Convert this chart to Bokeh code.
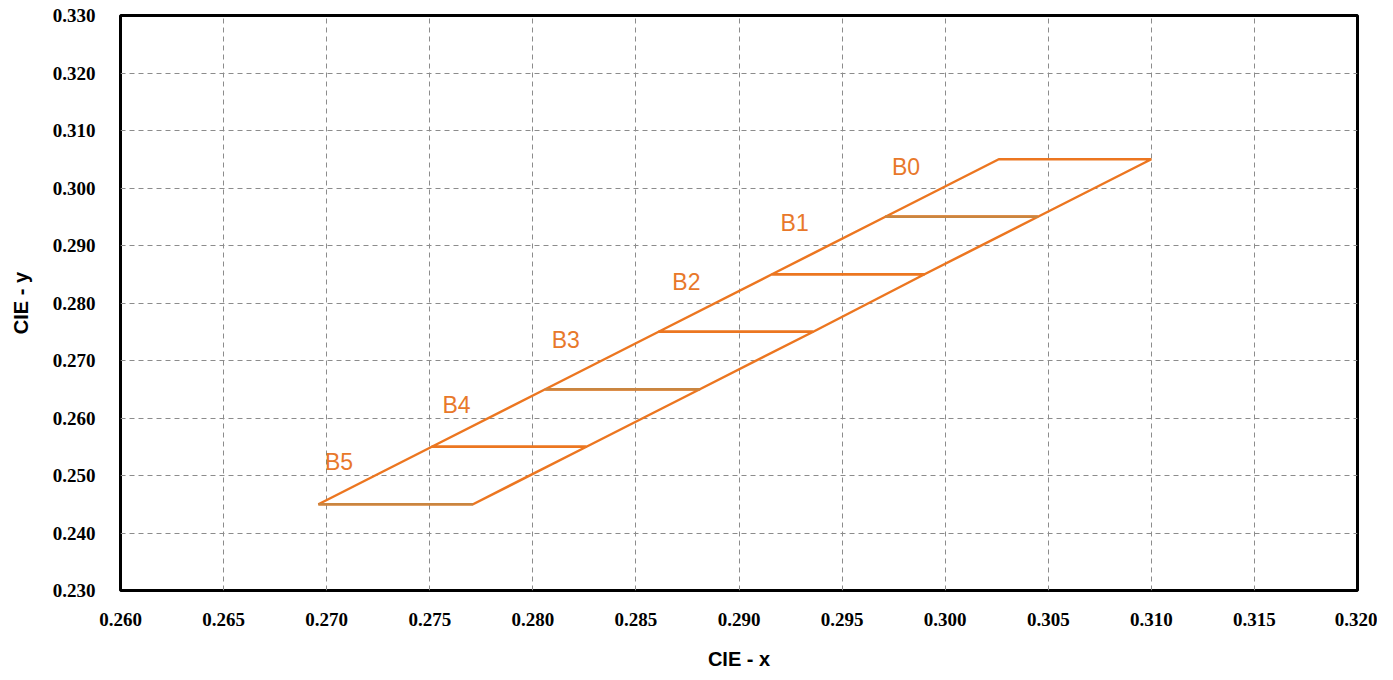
from bokeh.plotting import figure
from bokeh.models import Range1d, FixedTicker, PrintfTickFormatter
from bokeh.core.properties import value
from bokeh.embed import file_html
from bokeh.resources import INLINE

# Bin names and their quadrilateral corners (CIE x, CIE y)
bins = ["B0", "B1", "B2", "B3", "B4", "B5"]
bin_x = [
    [0.2971, 0.3026, 0.3100, 0.3045],
    [0.2916, 0.2971, 0.3045, 0.2990],
    [0.2861, 0.2916, 0.2990, 0.2936],
    [0.2806, 0.2861, 0.2936, 0.2881],
    [0.2751, 0.2806, 0.2881, 0.2826],
    [0.2696, 0.2751, 0.2826, 0.2771],
]
bin_y = [
    [0.295, 0.305, 0.305, 0.295],
    [0.285, 0.295, 0.295, 0.285],
    [0.275, 0.285, 0.285, 0.275],
    [0.265, 0.275, 0.275, 0.265],
    [0.255, 0.265, 0.265, 0.255],
    [0.245, 0.255, 0.255, 0.245],
]
# Bin label positions
label_x = [0.2981, 0.2927, 0.28745, 0.2816, 0.2763, 0.2706]
label_y = [0.3036, 0.2940, 0.2836, 0.2735, 0.2622, 0.2523]

x_ticks = [0.260, 0.265, 0.270, 0.275, 0.280, 0.285, 0.290, 0.295, 0.300,
           0.305, 0.310, 0.315, 0.320]
y_ticks = [0.230, 0.240, 0.250, 0.260, 0.270, 0.280, 0.290, 0.300, 0.310,
           0.320, 0.330]

ORANGE = "#EC7620"
BROWN = "#C98540"

p = figure(width=1377, height=672, output_backend="svg", toolbar_location=None,
           x_range=Range1d(0.260, 0.320), y_range=Range1d(0.230, 0.330),
           min_border_left=120, min_border_right=20, min_border_top=15,
           min_border_bottom=82)
p.background_fill_color = "white"
p.border_fill_color = "white"
p.outline_line_color = "black"
p.outline_line_width = 3
p.outline_line_alpha = 1.0

for ax in (p.xaxis[0], p.yaxis[0]):
    ax.axis_line_color = None
    ax.major_tick_line_color = None
    ax.minor_tick_line_color = None
    ax.major_label_text_font = "Liberation Serif"
    ax.major_label_text_font_style = "bold"
    ax.major_label_text_font_size = "19px"
    ax.major_label_text_color = "black"
    ax.axis_label_text_font = "Liberation Sans"
    ax.axis_label_text_font_style = "bold"
    ax.axis_label_text_font_size = "20px"
    ax.axis_label_text_color = "black"
    ax.formatter = PrintfTickFormatter(format="%.3f")

p.xaxis.ticker = FixedTicker(ticks=x_ticks)
p.yaxis.ticker = FixedTicker(ticks=y_ticks)
p.xaxis.axis_label = "CIE - x"
p.yaxis.axis_label = "CIE - y"
p.xaxis.major_label_standoff = 16
p.yaxis.major_label_standoff = 19
p.xaxis.axis_label_standoff = 19
p.yaxis.axis_label_standoff = 18

for g in (p.xgrid[0], p.ygrid[0]):
    g.grid_line_color = "#8c8c8c"
    g.grid_line_dash = "5 4"
    g.grid_line_width = 1

p.patches(bin_x, bin_y, fill_color=None, line_color=ORANGE, line_width=2.5)

# Darker (brownish) horizontal dividers seen on some bin edges
brown_idx = [0, 3, 5]
p.segment(x0=[bin_x[i][0] for i in brown_idx], y0=[bin_y[i][0] for i in brown_idx],
          x1=[bin_x[i][3] for i in brown_idx], y1=[bin_y[i][3] for i in brown_idx],
          line_color=BROWN, line_width=2.5)

p.text(x=label_x, y=label_y, text=bins, text_color="#E8782A",
       text_font=value("Liberation Sans"), text_font_size="23px",
       text_align="center", text_baseline="middle")

open("out.html", "w").write(file_html(p, INLINE))
